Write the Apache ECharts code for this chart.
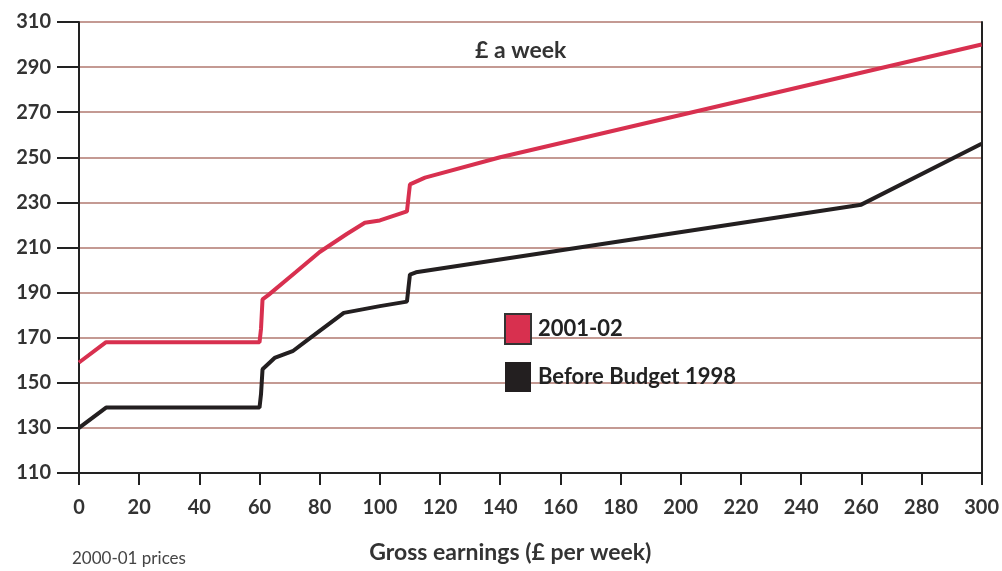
<!DOCTYPE html>
<html>
<head>
<meta charset="utf-8">
<script src="https://cdn.jsdelivr.net/npm/echarts@6/dist/echarts.min.js"></script>
<style>
  html, body { margin: 0; padding: 0; background: #fff; }
  #chart { width: 1002px; height: 571px; }
</style>
</head>
<body>
<div id="chart"></div>
<script>
// x = gross earnings (£ per week), y = £ a week
var redX = [0, 9, 60, 60.5, 61, 63, 72, 80, 89, 95, 100, 109, 109.5, 110, 115, 140, 300]
var redY = [159, 168, 168, 174, 187, 189, 199, 208, 216, 221, 222, 226, 232, 238, 241, 250, 300]
var blackX = [0, 9, 60, 60.5, 61, 65, 71, 76, 88, 100, 109, 109.5, 110, 112, 260, 300]
var blackY = [130, 139, 139, 145, 156, 161, 164, 169, 181, 184, 186, 192, 198, 199, 229, 256]
var seriesNames = ['2001-02', 'Before Budget 1998']
var seriesColors = ['#d8304f', '#231f20']

function pairs (xs, ys) {
  return xs.map(function (x, i) { return [x, ys[i]] })
}

var font = 'Lato'
var chart = echarts.init(document.getElementById('chart'))

var option = {
  backgroundColor: '#fff',
  animation: false,
  title: {
    text: '£ a week',
    left: 470,
    top: 34,
    textStyle: { fontFamily: font, fontSize: 23, fontWeight: 'bold', color: '#333' }
  },
  graphic: [{
    type: 'text',
    left: 72,
    top: 550,
    style: { text: '2000-01 prices', font: '17px ' + font, fill: '#444' }
  }],
  legend: {
    orient: 'vertical',
    left: 499,
    top: 308,
    itemWidth: 26,
    itemHeight: 30,
    itemGap: 17,
    icon: 'rect',
    textStyle: { fontFamily: font, fontSize: 22, fontWeight: 'bold', color: '#222', padding: [0, 0, 0, 2] },
    data: seriesNames
  },
  grid: {
    left: 79,
    right: 17,
    top: 22,
    bottom: 98
  },
  xAxis: {
    type: 'value',
    min: 0,
    max: 300,
    interval: 20,
    name: 'Gross earnings (£ per week)',
    nameLocation: 'middle',
    nameGap: 68,
    nameTextStyle: { fontFamily: font, fontSize: 23, fontWeight: 'bold', color: '#333', padding: [0, 40, 0, 0] },
    axisLine: { lineStyle: { color: '#222', width: 2 } },
    axisTick: { length: 12, lineStyle: { color: '#222', width: 2 } },
    axisLabel: { margin: 25, fontFamily: font, fontSize: 20, fontWeight: 'bold', color: '#333' },
    splitLine: { show: false }
  },
  yAxis: [{
    type: 'value',
    min: 110,
    max: 310,
    interval: 20,
    axisLine: { show: true, lineStyle: { color: '#222', width: 2 } },
    axisTick: { show: true, length: 22, lineStyle: { color: '#222', width: 2 } },
    axisLabel: { margin: 28, fontFamily: font, fontSize: 20, fontWeight: 'bold', color: '#333' },
    splitLine: { show: true, lineStyle: { color: '#c49a93', width: 2 } }
  }, {
    type: 'value',
    position: 'right',
    min: 110,
    max: 310,
    interval: 20,
    axisLine: { show: true, lineStyle: { color: '#222', width: 2 } },
    axisTick: { show: false },
    axisLabel: { show: false },
    splitLine: { show: false }
  }],
  series: [{
    name: seriesNames[0],
    type: 'line',
    symbol: 'none',
    lineStyle: { color: seriesColors[0], width: 4 },
    itemStyle: { color: seriesColors[0], borderColor: '#333', borderWidth: 1 },
    data: pairs(redX, redY)
  }, {
    name: seriesNames[1],
    type: 'line',
    symbol: 'none',
    lineStyle: { color: seriesColors[1], width: 4 },
    itemStyle: { color: seriesColors[1] },
    data: pairs(blackX, blackY)
  }]
}

chart.setOption(option)
</script>
</body>
</html>
